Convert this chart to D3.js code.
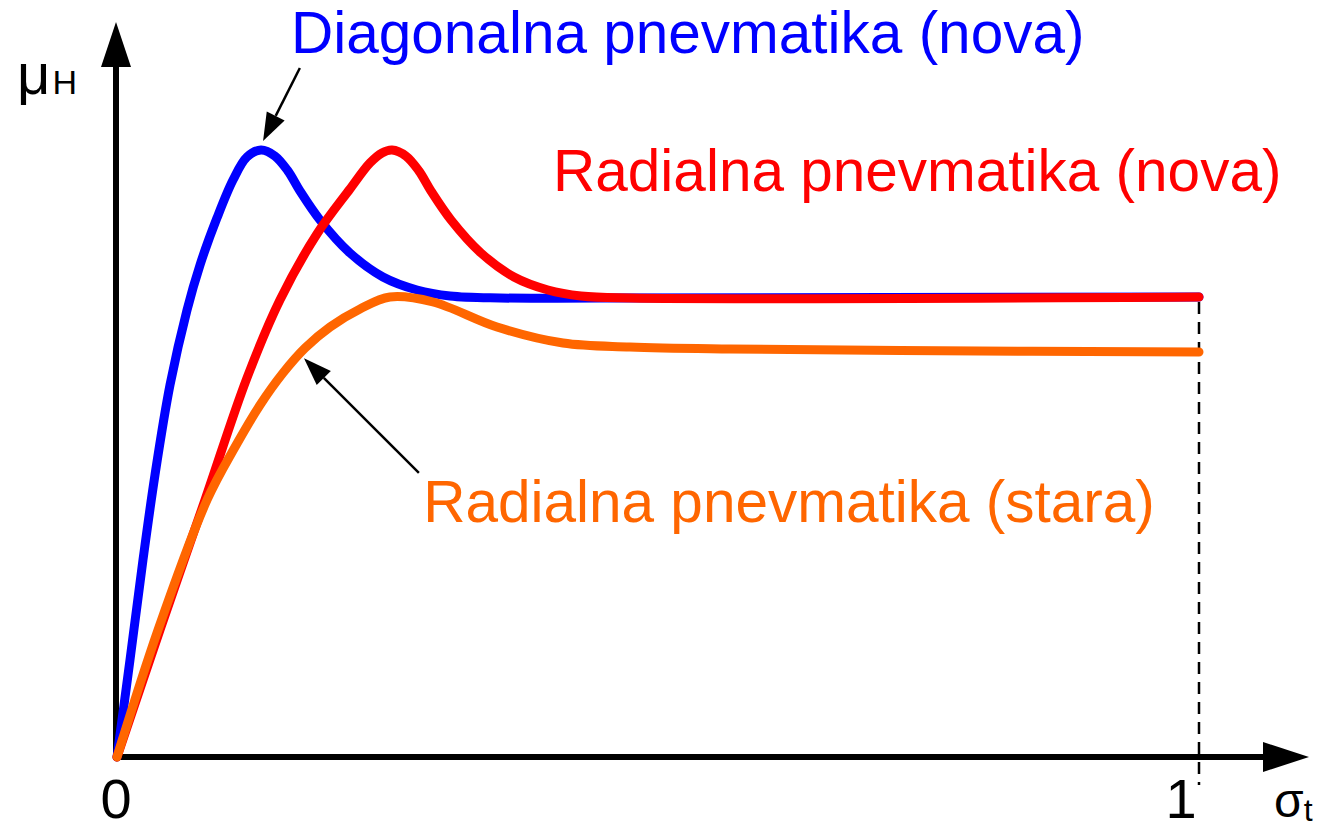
<!DOCTYPE html>
<html>
<head>
<meta charset="utf-8">
<script src="https://cdn.jsdelivr.net/npm/d3@7"></script>
<style>
  html, body { margin: 0; padding: 0; background: #fff; }
  svg { display: block; }
  text { font-family: Arial, "Liberation Sans", sans-serif; }
</style>
</head>
<body>
<svg id="chart" width="1331" height="829"></svg>
<script>
// ---- data (normalized: x = sigma_t, y = mu_H relative to peak) ----
const diagonalX = [0, 0.0120, 0.0240, 0.0351, 0.0490, 0.0647, 0.0767, 0.0924, 0.1072, 0.1201, 0.1331, 0.1460, 0.1580, 0.1691, 0.1876, 0.2153, 0.2458, 0.2773, 0.3078, 0.3540, 0.4464, 1.0];
const diagonalY = [0, 0.1598, 0.3245, 0.4646, 0.6129, 0.7364, 0.8105, 0.8880, 0.9506, 0.9885, 1.0, 0.9901, 0.9654, 0.9325, 0.8847, 0.8303, 0.7908, 0.7694, 0.7595, 0.7562, 0.7562, 0.7578];

const radialNewX = [0, 0.0397, 0.0813, 0.1201, 0.1506, 0.1848, 0.2153, 0.2338, 0.2449, 0.2542, 0.2671, 0.2791, 0.2902, 0.3087, 0.3364, 0.3669, 0.3983, 0.4288, 0.4750, 1.0];
const radialNewY = [0, 0.2092, 0.4234, 0.6244, 0.7529, 0.8616, 0.9357, 0.9786, 0.9951, 1.0, 0.9901, 0.9654, 0.9325, 0.8847, 0.8303, 0.7908, 0.7694, 0.7595, 0.7562, 0.7578];

const radialOldX = [0, 0.0379, 0.0832, 0.1091, 0.1322, 0.1534, 0.1738, 0.1969, 0.2246, 0.2523, 0.2921, 0.3512, 0.4122, 0.4741, 0.5665, 0.7237, 1.0];
const radialOldY = [0, 0.2092, 0.4234, 0.5107, 0.5799, 0.6326, 0.6738, 0.7084, 0.7381, 0.7578, 0.7496, 0.7084, 0.6820, 0.6755, 0.6722, 0.6697, 0.6672];

const seriesNames = ["Diagonalna pnevmatika (nova)", "Radialna pnevmatika (nova)", "Radialna pnevmatika (stara)"];
const tickValues = [0, 1];
const tickLabels = ["0", "1"];

// ---- layout ----
const svg = d3.select("#chart");
const x = d3.scaleLinear().domain([0, 1]).range([117, 1199]);
const y = d3.scaleLinear().domain([0, 1]).range([757, 150]);

const colors = { blue: "#0000ff", red: "#ff0000", orange: "#ff6600" };

// dashed line at sigma_t = 1
svg.append("line")
  .attr("x1", x(1)).attr("x2", x(1))
  .attr("y1", y(radialNewY[radialNewY.length - 1]) + 5)
  .attr("y2", y(0) + 28)
  .attr("stroke", "#000").attr("stroke-width", 2.5)
  .attr("stroke-dasharray", "12,8");

// axes
svg.append("line").attr("x1", x(0) - 1).attr("x2", x(0) - 1)
  .attr("y1", y(0) + 3).attr("y2", 60)
  .attr("stroke", "#000").attr("stroke-width", 6);
svg.append("path")
  .attr("d", `M${x(0) - 1},22 L${x(0) - 16},67 L${x(0) + 14},67 Z`)
  .attr("fill", "#000");
svg.append("line").attr("x1", x(0) - 4).attr("x2", 1270)
  .attr("y1", y(0)).attr("y2", y(0))
  .attr("stroke", "#000").attr("stroke-width", 6);
svg.append("path")
  .attr("d", `M1309,${y(0)} L1263,${y(0) - 15} L1263,${y(0) + 15} Z`)
  .attr("fill", "#000");

// curves
const line = d3.line()
  .x(d => x(d[0])).y(d => y(d[1]))
  .curve(d3.curveCatmullRom.alpha(0.5));

const series = [
  { xs: diagonalX, ys: diagonalY, color: colors.blue },
  { xs: radialNewX, ys: radialNewY, color: colors.red },
  { xs: radialOldX, ys: radialOldY, color: colors.orange }
];
series.forEach(s => {
  svg.append("path")
    .datum(d3.zip(s.xs, s.ys))
    .attr("d", line)
    .attr("fill", "none")
    .attr("stroke", s.color)
    .attr("stroke-width", 9)
    .attr("stroke-linecap", "round")
    .attr("stroke-linejoin", "round");
});

// labels
const labels = [
  { text: seriesNames[0], color: colors.blue, lx: 0.1608, ly: 1.160 },
  { text: seriesNames[1], color: colors.red, lx: 0.403, ly: 0.932 },
  { text: seriesNames[2], color: colors.orange, lx: 0.283, ly: 0.387 }
];
labels.forEach(l => {
  svg.append("text")
    .attr("x", x(l.lx)).attr("y", y(l.ly))
    .attr("fill", l.color)
    .attr("font-size", 58.5)
    .text(l.text);
});

// annotation arrows (data coords)
const arrows = [
  { from: [0.169, 1.135], to: [0.135, 1.015] },
  { from: [0.279, 0.468], to: [0.1728, 0.657] }
];
arrows.forEach(a => {
  const x1 = x(a.from[0]), y1 = y(a.from[1]);
  const x2 = x(a.to[0]), y2 = y(a.to[1]);
  const ang = Math.atan2(y2 - y1, x2 - x1);
  const len = 28, hw = 10;
  const bx = x2 - len * Math.cos(ang), by = y2 - len * Math.sin(ang);
  svg.append("line")
    .attr("x1", x1).attr("y1", y1).attr("x2", bx).attr("y2", by)
    .attr("stroke", "#000").attr("stroke-width", 2.5);
  const px = -Math.sin(ang) * hw, py = Math.cos(ang) * hw;
  svg.append("path")
    .attr("d", `M${x2},${y2} L${bx + px},${by + py} L${bx - px},${by - py} Z`)
    .attr("fill", "#000");
});

// tick labels
const tickOffsets = [-1, -18];
tickValues.forEach((v, i) => {
  svg.append("text")
    .attr("x", x(v) + tickOffsets[i]).attr("y", 818)
    .attr("text-anchor", "middle")
    .attr("font-size", 56)
    .attr("fill", "#000")
    .text(tickLabels[i]);
});

// axis titles
const yTitle = svg.append("text").attr("x", 17).attr("y", 94).attr("fill", "#000");
yTitle.append("tspan").attr("font-size", 58).text("μ");
yTitle.append("tspan").attr("font-size", 34).attr("dx", 2).text("H");

const xTitle = svg.append("text").attr("x", 1274).attr("y", 817).attr("fill", "#000");
xTitle.append("tspan").attr("font-size", 48).text("σ");
xTitle.append("tspan").attr("font-size", 32).attr("dy", 4).text("t");
</script>
</body>
</html>
